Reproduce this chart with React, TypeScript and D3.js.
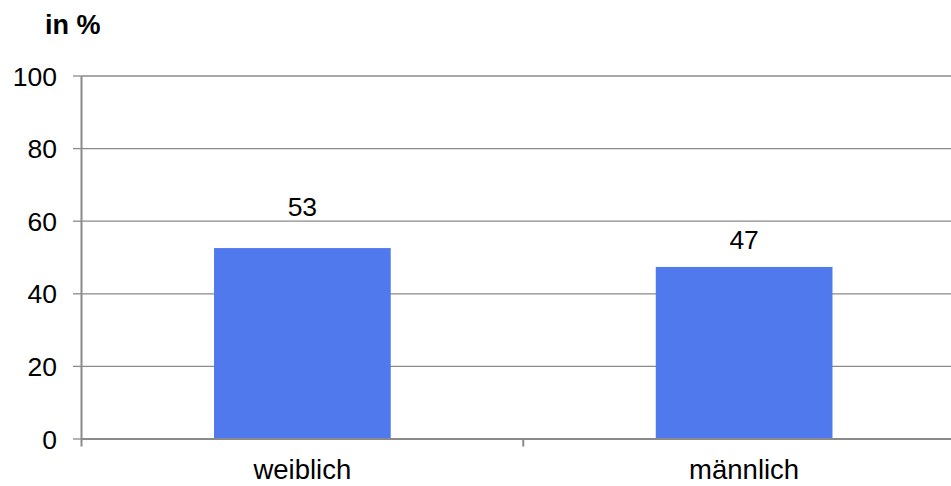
import React from "react";
import * as d3 from "d3";

const categories = ["weiblich", "männlich"];
const values = [52.6, 47.4];
const yTicks = [0, 20, 40, 60, 80, 100];
const yTitle = "in %";

export default function App() {
  const W = 951, H = 486;
  const left = 81.5, right = 965, top = 76, bottom = 439;
  const y = d3.scaleLinear().domain([0, 100]).range([bottom, top]);
  const x = d3.scaleBand<string>().domain(categories).range([left, right]).padding(0);
  const bw = x.bandwidth() * 0.4;
  const labelGap = [32, 18];
  const font = "'Liberation Sans', Arial, sans-serif";
  const grey = "#8a8a8a";
  return (
    <svg width={W} height={H} style={{ position: "absolute", left: 0, top: 0, background: "#fff" }} fontFamily={font}>
      <text x={45} y={34} fontSize={27} fontWeight="bold" fill="#000">{yTitle}</text>
      {yTicks.map((t) => (
        <g key={t}>
          {t > 0 && <line x1={left} x2={W} y1={y(t)} y2={y(t)} stroke={grey} strokeWidth={1.3} />}
          <line x1={73} x2={left} y1={y(t)} y2={y(t)} stroke={grey} strokeWidth={1.3} />
          <text x={57} y={y(t)} dy="0.36em" textAnchor="end" fontSize={26.5} fill="#000">{t}</text>
        </g>
      ))}
      {categories.map((c, i) => {
        const cx = (x(c) as number) + x.bandwidth() / 2;
        return (
          <g key={c}>
            <rect x={cx - bw / 2} y={y(values[i])} width={bw} height={bottom - y(values[i])} fill="#5079EE" />
            <text x={cx} y={y(values[i]) - labelGap[i]} textAnchor="middle" fontSize={26.5} fill="#000">{Math.round(values[i])}</text>
            <text x={cx} y={479} textAnchor="middle" fontSize={27.5} fill="#000">{c}</text>
          </g>
        );
      })}
      {[...categories.map((c) => x(c) as number), right].map((v, i) => (
        <line key={i} x1={v} x2={v} y1={bottom} y2={446.5} stroke={grey} strokeWidth={2} />
      ))}
      <line x1={left} x2={left} y1={top} y2={bottom} stroke={grey} strokeWidth={2} />
      <line x1={left} x2={W} y1={bottom} y2={bottom} stroke={grey} strokeWidth={2} />
    </svg>
  );
}
